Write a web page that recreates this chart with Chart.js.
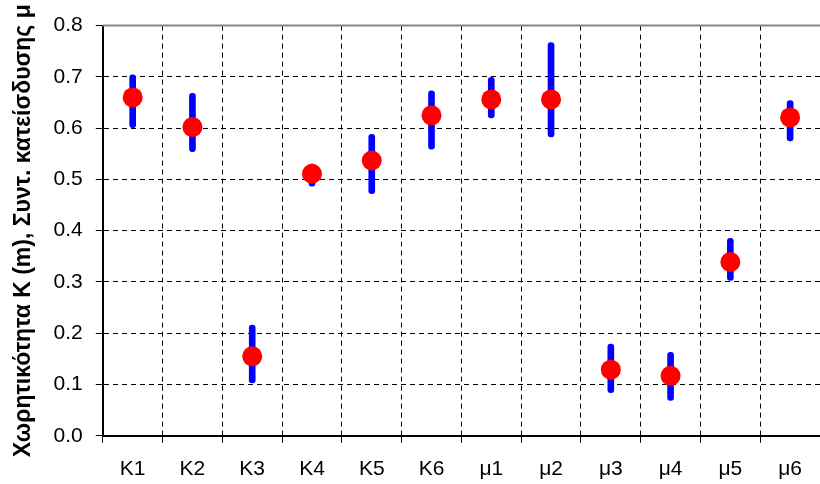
<!DOCTYPE html>
<html>
<head>
<meta charset="utf-8">
<script src="https://cdn.jsdelivr.net/npm/chart.js@4"></script>
<style>
  html, body { margin: 0; padding: 0; background: #fff; overflow: hidden; }
  #wrap { width: 820px; height: 484px; overflow: hidden; }
</style>
</head>
<body>
<div id="wrap"><canvas id="myChart" width="830" height="496"></canvas></div>
<script>
const categories = ["K1", "K2", "K3", "K4", "K5", "K6", "μ1", "μ2", "μ3", "μ4", "μ5", "μ6"];
const means = [0.660, 0.602, 0.155, 0.511, 0.537, 0.625, 0.656, 0.656, 0.129, 0.117, 0.339, 0.621];
const lows = [0.601, 0.554, 0.103, 0.487, 0.472, 0.559, 0.620, 0.583, 0.084, 0.069, 0.303, 0.575];
const highs = [0.704, 0.668, 0.216, 0.530, 0.588, 0.673, 0.699, 0.767, 0.179, 0.163, 0.385, 0.654];
const yTicks = [0, 0.1, 0.2, 0.3, 0.4, 0.5, 0.6, 0.7, 0.8];
const yTitle = "Χωρητικότητα K (m), Συντ. κατείσδυσης μ";

const fontFamily = "'Liberation Sans', Arial, sans-serif";

// gray frame line along the top of the plot area
const topFrame = {
  id: "topFrame",
  beforeDatasetsDraw(chart) {
    const { ctx, chartArea } = chart;
    ctx.save();
    ctx.strokeStyle = "#888";
    ctx.lineWidth = 2;
    ctx.beginPath();
    ctx.moveTo(chartArea.left, chartArea.top);
    ctx.lineTo(chartArea.right + 10, chartArea.top);
    ctx.stroke();
    ctx.restore();
  },
};

let ranges = [];
for (let i = 0; i < categories.length; i++) {
  ranges.push([lows[i], highs[i]]);
}

new Chart(document.getElementById("myChart"), {
  type: "bar",
  data: {
    labels: categories,
    datasets: [
      {
        type: "line",
        data: means,
        showLine: false,
        pointRadius: 10,
        pointHoverRadius: 10,
        pointBackgroundColor: "#ff0000",
        pointBorderWidth: 0,
        borderColor: "#ff0000",
        order: 1,
      },
      {
        data: ranges,
        backgroundColor: "#0000ff",
        barThickness: 6,
        borderRadius: 3,
        borderSkipped: false,
        order: 2,
      },
    ],
  },
  plugins: [topFrame],
  options: {
    responsive: false,
    animation: false,
    layout: {
      padding: { top: 25, right: 6, left: 0, bottom: 0 },
    },
    plugins: {
      legend: { display: false },
      tooltip: { enabled: false },
    },
    scales: {
      x: {
        grid: {
          color: "#000",
          offset: true,
          tickLength: 7,
        },
        border: { color: "#000", width: 2, dash: [5, 4] },
        ticks: {
          color: "#000",
          padding: 14,
          font: { family: fontFamily, size: 21 },
          maxRotation: 0,
        },
      },
      y: {
        min: 0,
        max: 0.8,
        afterBuildTicks(scale) {
          scale.ticks = yTicks.map((v) => ({ value: v }));
        },
        grid: {
          color: "#000",
          tickLength: 7,
        },
        border: { color: "#000", width: 2, dash: [5, 4] },
        ticks: {
          color: "#000",
          padding: 13,
          font: { family: fontFamily, size: 21 },
          callback: (v) => Number(v).toFixed(1),
        },
        title: {
          display: true,
          text: yTitle,
          color: "#000",
          font: { family: fontFamily, size: 23, weight: "bold" },
          padding: { top: 10, bottom: 3 },
        },
      },
    },
  },
});
</script>
</body>
</html>
